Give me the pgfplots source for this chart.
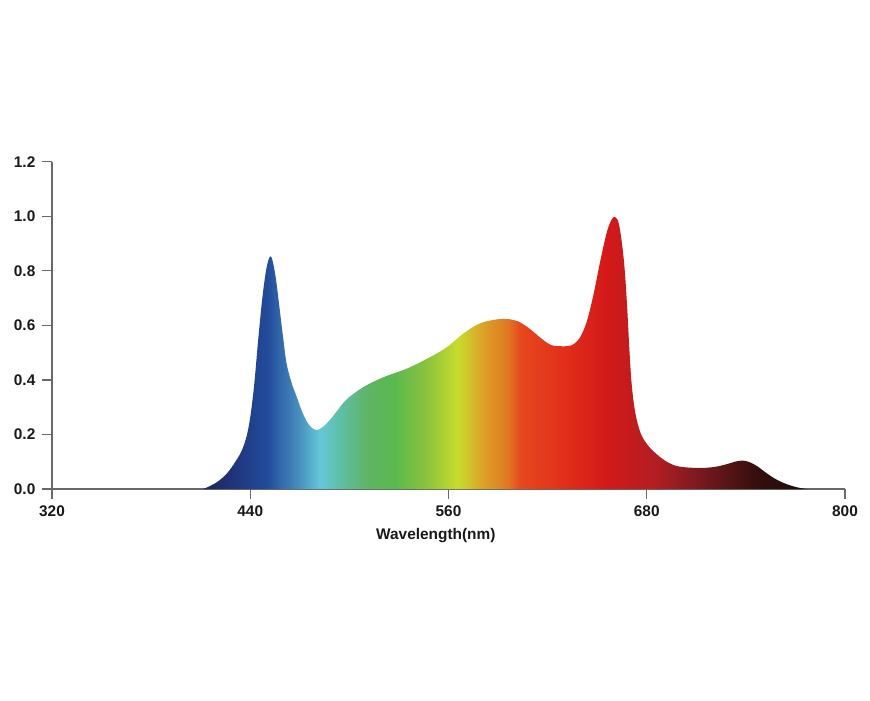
\documentclass[border=0pt]{standalone}
\usepackage{pgfplots}
\pgfplotsset{compat=1.18}
\usepackage{fontspec}
\setmainfont{Liberation Sans}

\definecolor{axisgray}{RGB}{105,105,105}
\definecolor{labelblack}{RGB}{25,25,25}
% spectrum colours, read off the fill from left to right
\definecolor{sp0}{RGB}{25,38,95}
\definecolor{sp1}{RGB}{30,45,110}
\definecolor{sp2}{RGB}{35,75,155}
\definecolor{sp3}{RGB}{70,140,190}
\definecolor{sp4}{RGB}{100,200,215}
\definecolor{sp5}{RGB}{95,190,165}
\definecolor{sp6}{RGB}{95,180,100}
\definecolor{sp7}{RGB}{90,185,80}
\definecolor{sp8}{RGB}{140,195,60}
\definecolor{sp9}{RGB}{200,220,45}
\definecolor{sp10}{RGB}{220,160,40}
\definecolor{sp11}{RGB}{225,120,35}
\definecolor{sp12}{RGB}{230,72,30}
\definecolor{sp13}{RGB}{225,45,25}
\definecolor{sp14}{RGB}{210,25,25}
\definecolor{sp15}{RGB}{180,30,35}
\definecolor{sp16}{RGB}{120,25,30}
\definecolor{sp17}{RGB}{55,15,15}
\definecolor{sp18}{RGB}{30,10,10}

% the inner 25bp..75bp span the curve from 411.5 nm to 777 nm
\pgfdeclarehorizontalshading{spectrum}{100bp}{%
  color(0bp)=(sp0); color(25bp)=(sp0); color(26.41bp)=(sp1);
  color(30.31bp)=(sp2); color(32.80bp)=(sp3); color(34.70bp)=(sp4);
  color(36.36bp)=(sp5); color(38.61bp)=(sp6); color(40.76bp)=(sp7);
  color(43.58bp)=(sp8); color(46.07bp)=(sp9); color(48.22bp)=(sp10);
  color(50.21bp)=(sp11); color(51.28bp)=(sp12); color(55.17bp)=(sp13);
  color(58.50bp)=(sp14); color(62.31bp)=(sp15); color(66.20bp)=(sp16);
  color(70.60bp)=(sp17); color(75bp)=(sp18); color(100bp)=(sp18)}

\pgfplotstableread{
nm     val
411.5  0
416    0.012
421    0.03
426    0.058
431    0.10
435.5  0.15
439    0.227
442    0.36
445    0.56
447.5  0.71
450    0.815
452.3  0.853
454.3  0.815
456    0.75
458    0.65
460    0.55
462    0.46
465    0.39
468    0.34
472    0.275
476    0.232
480    0.216
484    0.228
488.5  0.255
493    0.29
498.6  0.33
508.6  0.374
520.7  0.41
535    0.442
549    0.484
559    0.52
569    0.57
579    0.607
589.5  0.622
597.6  0.622
602    0.615
607.7  0.594
613    0.568
617.6  0.545
622    0.528
626    0.524
632    0.524
636    0.532
640    0.56
644    0.62
648    0.72
652    0.84
656    0.945
659    0.99
661    0.996
663    0.975
665    0.90
666.7  0.80
668.2  0.66
669.5  0.51
670.8  0.39
672.5  0.30
674.5  0.24
677    0.195
681    0.158
686.5  0.125
693    0.097
700    0.082
712.7  0.077
722    0.082
729    0.092
734    0.101
738    0.104
742    0.099
747    0.083
753    0.056
759    0.033
765    0.017
771    0.006
777    0
}\spectrumdata

\begin{document}
\begin{tikzpicture}
\path (-26pt,-105.5pt) rectangle (409pt,244.5pt);
\begin{axis}[
  at={(0,0)}, anchor=south west,
  scale only axis, width=396.5pt, height=163.65pt,
  xmin=320, xmax=800, ymin=0, ymax=1.2,
  axis x line=bottom, axis y line=left,
  axis line style={-, draw=axisgray, line width=0.6pt},
  xtick={320,440,560,680,800},
  ytick={0,0.2,0.4,0.6,0.8,1.0,1.2},
  tick align=outside, major tick length=4.8pt,
  tick style={draw=axisgray, line width=0.6pt},
  minor tick num=0,
  /pgf/number format/assume math mode=true,
  yticklabel style={/pgf/number format/.cd, fixed, fixed zerofill, precision=1},
  tick label style={font=\fontsize{7.7}{9}\selectfont\bfseries, text=labelblack},
  xlabel={Wavelength(nm)},
  every axis x label/.style={at={(axis description cs:0.484,0)}, anchor=center,
    yshift=-23.5pt, font=\fontsize{7.7}{9}\selectfont\bfseries, text=labelblack},
  clip=false,
]
\addplot[draw=none, shading=spectrum, smooth, tension=0.6] table[x=nm, y=val] {\spectrumdata} \closedcycle;
\end{axis}
\end{tikzpicture}
\end{document}
